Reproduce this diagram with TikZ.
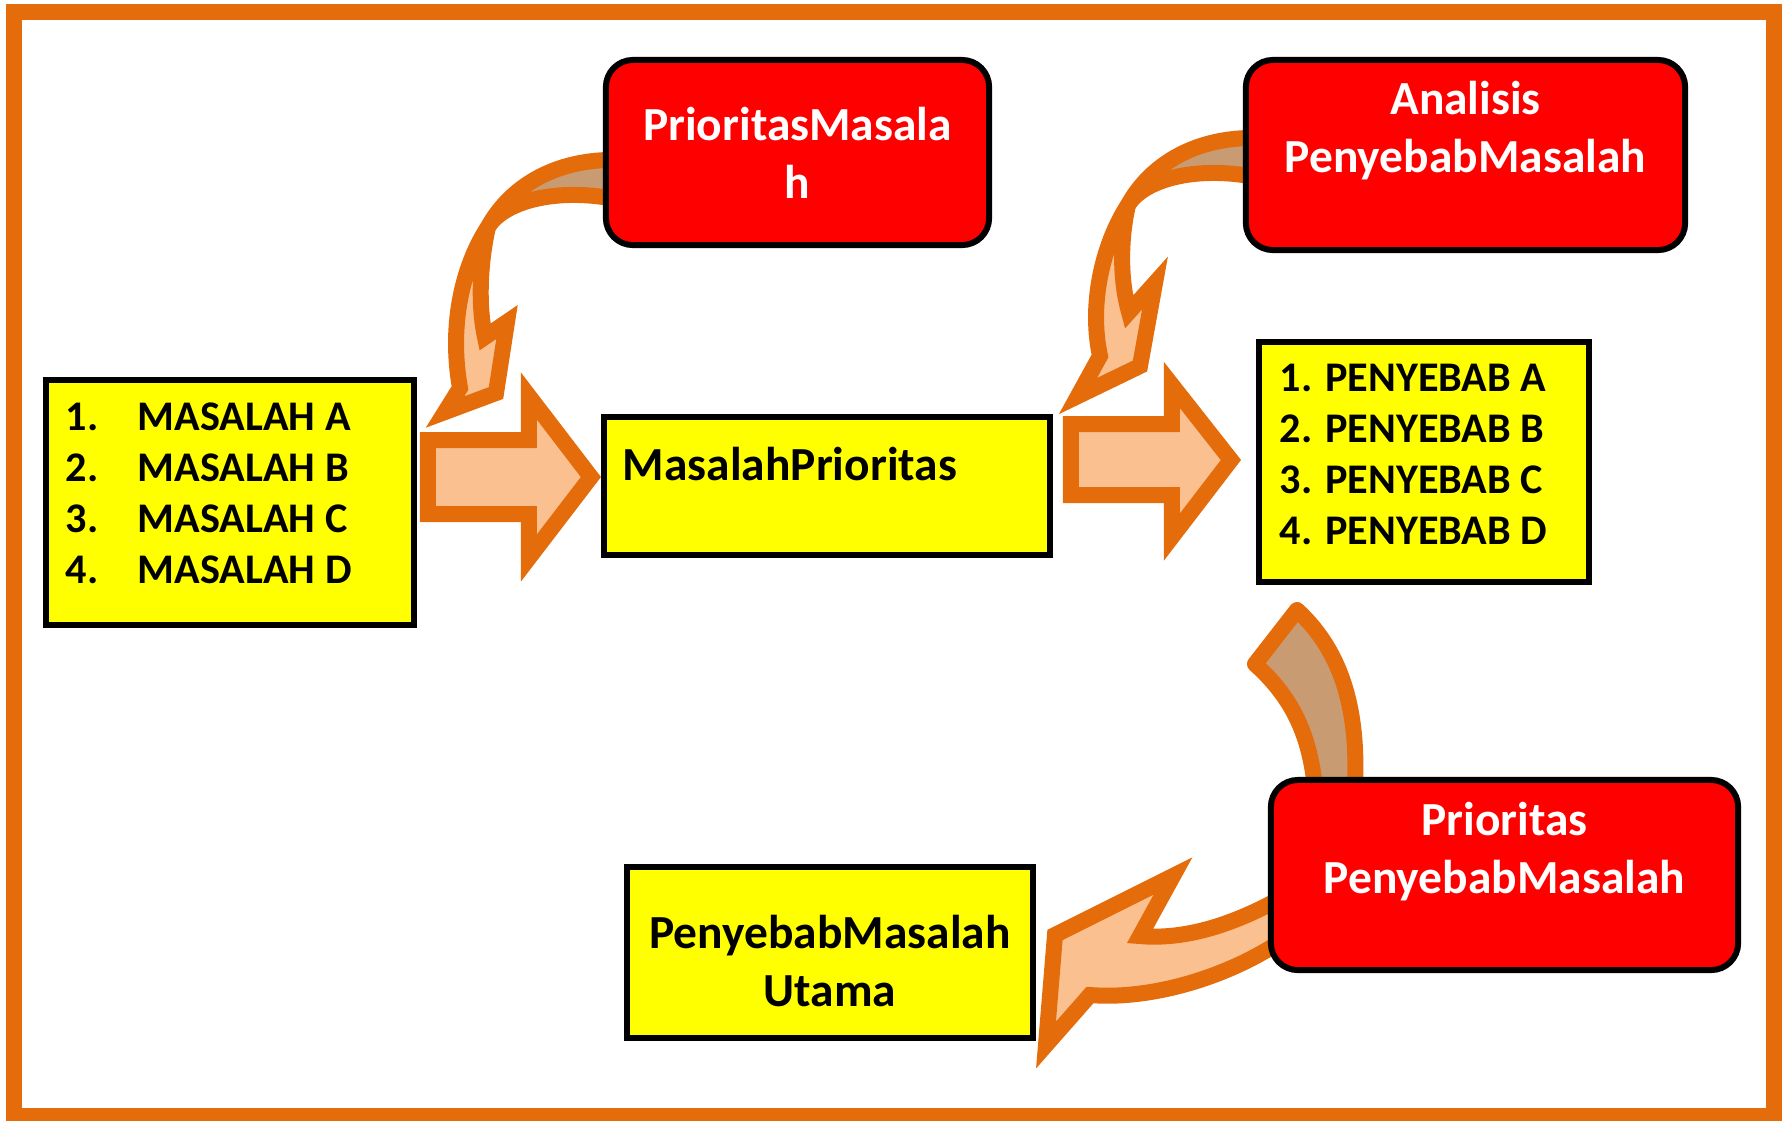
\documentclass[tikz,border=0pt]{standalone}
\usepackage{fontspec}
\setmainfont{Carlito}
\usetikzlibrary{calc}
\definecolor{frameorange}{RGB}{228,108,10}
\definecolor{arrowpeach}{RGB}{250,192,144}
\definecolor{arrowtan}{RGB}{201,155,115}
\definecolor{boxyellow}{RGB}{255,255,0}
\definecolor{boxred}{RGB}{255,0,0}
\tikzset{
	yellowbox/.style={draw=black, line width=0.06cm, fill=boxyellow, font=\bfseries\fontsize{12pt}{14.5pt}\selectfont},
	bigtext/.style={font=\bfseries\fontsize{13.5pt}{16.5pt}\selectfont},
	redbox/.style={draw=black, line width=0.06cm, fill=boxred, rounded corners=0.27cm, text=white, align=center, bigtext},
	blockarrow/.style={draw=frameorange, fill=arrowpeach, line width=0.16cm, miter limit=4},
	backpart/.style={draw=frameorange, fill=arrowtan, line width=0.16cm, line join=round},
	frontpart/.style={draw=frameorange, fill=arrowpeach, line width=0.16cm, miter limit=4}
}
\begin{document}
\begin{tikzpicture}[x=0.01cm, y=-0.01cm]
		\useasboundingbox (0,0) rectangle (1787,1120);
		\draw[frameorange, line width=0.16cm] (14,12) rectangle (1774,1116);
		
		\node[yellowbox, minimum height=2.45cm, text width=3.28cm, inner xsep=0.2cm, align=flush left] (masalah) at (230,502.5) {\makebox[0.72cm][l]{1.}MASALAH A\\ \makebox[0.72cm][l]{2.}MASALAH B\\ \makebox[0.72cm][l]{3.}MASALAH C\\ \makebox[0.72cm][l]{4.}MASALAH D\rule[-0.19cm]{0pt}{0pt}};
		\node[yellowbox, bigtext, minimum height=1.38cm, text width=4.08cm, inner xsep=0.19cm, align=flush left] (masalahprio) at (827,486) {MasalahPrioritas\rule[-0.44cm]{0pt}{0pt}};
		\node[yellowbox, minimum height=2.40cm, text width=2.88cm, inner xsep=0.21cm, align=flush left] (penyebab) at (1424,462) {1. PENYEBAB A\\2. PENYEBAB B\\3. PENYEBAB C\\4. PENYEBAB D\rule[-0.15cm]{0pt}{0pt}};
		\node[yellowbox, bigtext, minimum width=4.06cm, minimum height=1.70cm, align=center] (utama) at (830,952.5) {\rule{0pt}{0.51cm}PenyebabMasalah\\Utama};
		
		\draw[blockarrow] ($(masalahprio.west)+(-10,-9)$) -- ++(-62,-81) -- ++(0,44) -- ++(-101,0) -- ++(0,74) -- ++(101,0) -- ++(0,44) -- cycle;
		\draw[blockarrow] ($(penyebab.west)+(-25,-2)$) -- ++(-59,-75) -- ++(0,39) -- ++(-101,0) -- ++(0,71) -- ++(101,0) -- ++(0,42) -- cycle;
		
		\draw[backpart] (620,160) .. controls (555,158) and (510,187) .. (488,227) .. controls (505,200) and (560,187) .. (620,200) -- cycle;
		\draw[frontpart] (488,227) .. controls (465,262) and (448,320) .. (460,388) -- (445,412) -- (496,393) -- (507,322) -- (485,337) .. controls (478,305) and (480,262) .. (488,227) -- cycle;
		\draw[backpart] (1260,138) .. controls (1195,136) and (1150,165) .. (1128,205) .. controls (1145,178) and (1200,165) .. (1260,178) -- cycle;
		\draw[frontpart] (1128,205) .. controls (1105,240) and (1088,300) .. (1100,356) -- (1078,396) -- (1140,366) -- (1155,283) -- (1129,312) .. controls (1120,280) and (1120,240) .. (1128,205) -- cycle;
		\draw[backpart] (1316,800) .. controls (1312,740) and (1295,700) .. (1255,664) -- (1297,610) .. controls (1335,645) and (1362,700) .. (1354,800) -- cycle;
		\draw[frontpart] (1290,893) .. controls (1235,925) and (1185,940) .. (1140,936) -- (1173,876) -- (1055,935) -- (1046,1045) -- (1090,995) .. controls (1150,1000) and (1230,978) .. (1290,935) -- cycle;
		
		\node[redbox, minimum width=3.83cm, minimum height=1.85cm] (prioritasmasalah) at (797.5,152.5) {PrioritasMasala\\h};
		\node[redbox, minimum width=4.39cm, minimum height=1.90cm] (analisis) at (1465.5,155) {Analisis\\PenyebabMasalah\rule[-0.56cm]{0pt}{0pt}};
		\node[redbox, minimum width=4.67cm, minimum height=1.90cm] (prioritaspenyebab) at (1504.5,875) {Prioritas\\PenyebabMasalah\rule[-0.54cm]{0pt}{0pt}};
\end{tikzpicture}
\end{document}
